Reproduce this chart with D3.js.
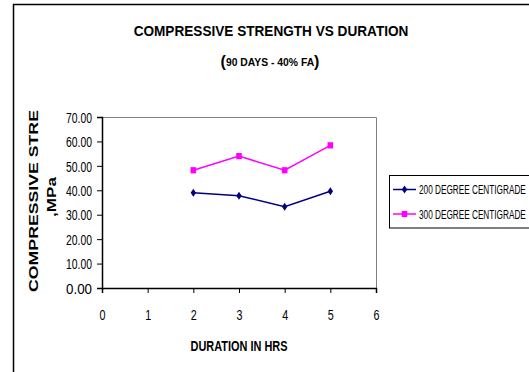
<!DOCTYPE html>
<html>
<head>
<meta charset="utf-8">
<script src="https://cdn.jsdelivr.net/npm/d3@7"></script>
<style>
  html, body { margin: 0; padding: 0; background: #fff; }
  svg { display: block; }
  text { font-family: "Liberation Sans", Arial, sans-serif; }
</style>
</head>
<body>
<svg id="chart" width="529" height="372"></svg>
<script>
// Duration (hours) on the x axis
const durations = [2, 3, 4, 5];
// Compressive strength (MPa) at each duration
const strength200 = [39.0, 37.8, 33.3, 39.6];
const strength300 = [48.2, 54.0, 48.2, 58.4];
const seriesNames = ["200 DEGREE CENTIGRADE", "300 DEGREE CENTIGRADE"];
const yTicks = [0, 10, 20, 30, 40, 50, 60, 70];
const xTicks = [0, 1, 2, 3, 4, 5, 6];

const svg = d3.select("#chart");
const W = 529, H = 372;
const plot = { left: 102, right: 376, top: 117, bottom: 288 };

// outer chart frame
svg.append("rect")
  .attr("x", 13.5).attr("y", 4.5)
  .attr("width", W + 20).attr("height", H + 20)
  .attr("fill", "#fff").attr("stroke", "#000").attr("stroke-width", 1.5);

const x = d3.scaleLinear().domain([0, 6]).range([plot.left, plot.right]);
const y = d3.scaleLinear().domain([0, 70]).range([plot.bottom, plot.top]);

// plot area border (grey top and right)
svg.append("path")
  .attr("d", `M${plot.left},${plot.top + 0.5}H${plot.right + 0.5}V${plot.bottom}`)
  .attr("fill", "none").attr("stroke", "#808080").attr("stroke-width", 1);

// text placed at (tx, ty), rotated, then scaled along its own baseline
// so that it spans `width` pixels
function squeeze(sel, tx, ty, width, rot = 0) {
  sel.each(function() {
    const k = width / this.getComputedTextLength();
    d3.select(this).attr("x", 0).attr("y", 0)
      .attr("transform", `translate(${tx},${ty}) rotate(${rot}) scale(${k},1)`);
  });
  return sel;
}

// titles
squeeze(svg.append("text").attr("text-anchor", "middle")
  .attr("font-weight", "bold").attr("font-size", 14.5)
  .text("COMPRESSIVE STRENGTH VS DURATION"), 271, 36, 275);

const sub = svg.append("text").attr("text-anchor", "middle").attr("font-weight", "bold");
sub.append("tspan").attr("font-size", 17).text("(");
sub.append("tspan").attr("font-size", 11).attr("dy", -1.5).text("90 DAYS - 40% FA");
sub.append("tspan").attr("font-size", 17).attr("dy", 1.5).text(")");
squeeze(sub, 270, 67, 99);

// y axis
const yAxis = d3.axisLeft(y).tickValues(yTicks)
  .tickFormat(d3.format(".2f")).tickSize(5).tickPadding(5);
const gy = svg.append("g").attr("transform", `translate(${plot.left},0)`).call(yAxis);
gy.select(".domain").attr("stroke", "#000").attr("stroke-width", 1.5);
gy.selectAll(".tick line").attr("stroke", "#000");
gy.selectAll(".tick text").attr("font-family", null).attr("font-size", 14.5)
  .attr("fill", "#000").attr("dy", "0.36em")
  .call(s => squeeze(s, -10, 0, 26));

// x axis
const xAxis = d3.axisBottom(x).tickValues(xTicks)
  .tickFormat(d3.format("d")).tickSize(5).tickPadding(17);
const gx = svg.append("g").attr("transform", `translate(0,${plot.bottom})`).call(xAxis);
gx.select(".domain").attr("stroke", "#000").attr("stroke-width", 1.5);
gx.selectAll(".tick line").attr("stroke", "#000");
gx.selectAll(".tick text").attr("font-family", null).attr("font-size", 14.5)
  .attr("fill", "#000")
  .call(s => squeeze(s, 0, 22, 6));

// axis titles
squeeze(svg.append("text").attr("text-anchor", "middle")
  .attr("font-weight", "bold").attr("font-size", 14.5)
  .text("DURATION IN HRS"), 239, 351, 97);

squeeze(svg.append("text").attr("text-anchor", "middle")
  .attr("font-weight", "bold").attr("font-size", 13.5)
  .text("COMPRESSIVE STRE"), 37.5, 201, 182, -90);
squeeze(svg.append("text").attr("text-anchor", "middle")
  .attr("font-weight", "bold").attr("font-size", 13.5)
  .text(",MPa"), 55.5, 197, 40, -90);

// series
const series = [
  { name: seriesNames[0], values: strength200, color: "#000080", marker: "diamond" },
  { name: seriesNames[1], values: strength300, color: "#FF00FF", marker: "square" }
];

const line = d3.line().x((d, i) => x(durations[i])).y(d => y(d));

function drawMarker(g, cx, cy, type, color) {
  if (type === "diamond") {
    g.append("path")
      .attr("d", `M${cx},${cy - 4}L${cx + 2.7},${cy}L${cx},${cy + 4}L${cx - 2.7},${cy}Z`)
      .attr("fill", color);
  } else {
    g.append("rect").attr("x", cx - 2.8).attr("y", cy - 3.1)
      .attr("width", 5.6).attr("height", 6.2).attr("fill", color);
  }
}

series.forEach(s => {
  const g = svg.append("g");
  g.append("path").datum(s.values).attr("d", line)
    .attr("fill", "none").attr("stroke", s.color).attr("stroke-width", 1.5);
  s.values.forEach((v, i) => drawMarker(g, x(durations[i]), y(v), s.marker, s.color));
});

// legend
const lg = svg.append("g");
lg.append("rect").attr("x", 389.5).attr("y", 175.5)
  .attr("width", 160).attr("height", 52.5)
  .attr("fill", "#fff").attr("stroke", "#000").attr("stroke-width", 1);
series.forEach((s, i) => {
  const ly = 189.5 + i * 24.5;
  lg.append("line").attr("x1", 393).attr("x2", 416).attr("y1", ly).attr("y2", ly)
    .attr("stroke", s.color).attr("stroke-width", 1.5);
  drawMarker(lg, 404.5, ly, s.marker, s.color);
  squeeze(lg.append("text").attr("font-size", 13).text(s.name), 419, ly + 4.5, 107);
});
</script>
</body>
</html>
